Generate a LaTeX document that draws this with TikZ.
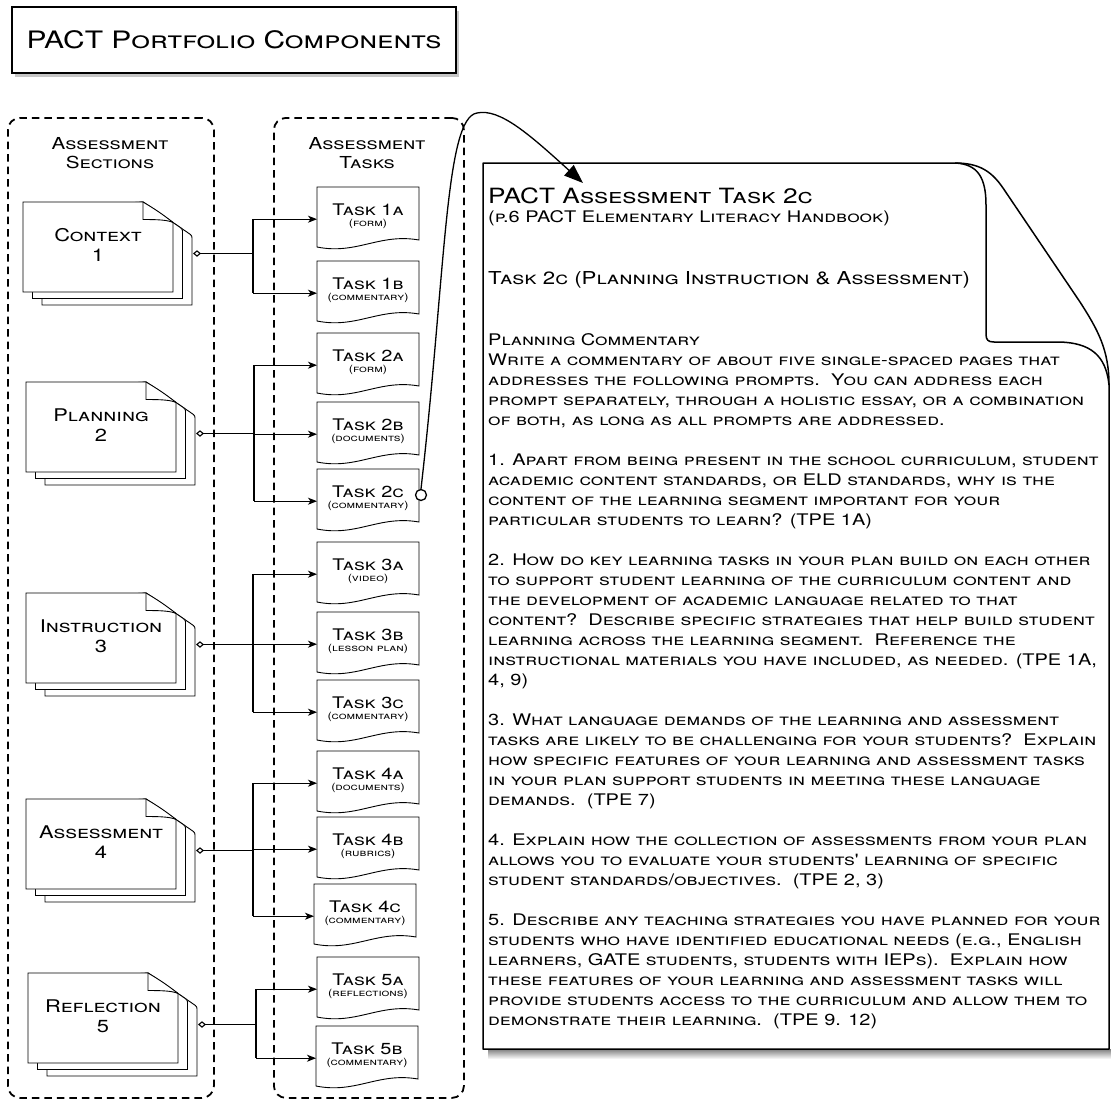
\documentclass[tikz,border=0pt]{standalone}
\usepackage{fontspec}
\setmainfont{TeX Gyre Heros}
\newfontfamily\cop[Letters=SmallCaps,FakeStretch=1.25]{TeX Gyre Heros}
\usetikzlibrary{arrows.meta,shapes.geometric,calc,shadows}

\newcommand\secdoc[5]{%
  \path[pagefill] (#2+19,#3+13) -- (#2+120,#3) -- (#2+165,#3+30.8) .. controls (#2+169,#3+33.5) .. (#2+169,#3+37.5) -- (#2+169,#3+103) -- (#2+19,#3+103) -- cycle;
  \path[pagefill] (#2+9.5,#3+6.5) -- (#2+120,#3) -- (#2+155.5,#3+24.3) .. controls (#2+159.5,#3+27) .. (#2+159.5,#3+31) -- (#2+159.5,#3+96.5) -- (#2+9.5,#3+96.5) -- cycle;
  \path[pagefill] (#2,#3) -- (#2+120,#3) .. controls (#2+132,#3+7) and (#2+142,#3+14) .. (#2+150,#3+20.5) -- (#2+150,#3+90) -- (#2,#3+90) -- cycle;
  \draw[pageline] (#2+120,#3) -- (#2+120,#3+17.5) .. controls (#2+135,#3+17.5) and (#2+145,#3+18) .. (#2+150,#3+20.5);
  \node[secbox] (#1) at (#2,#3) {};
  \node[sectxt] (#1-l) at (#2+75,#3+43) {#4\\#5};
  \coordinate (#1-d) at (#2+170,#3+51.5);
}
\newcommand\taskdoc[5]{%
  \path[pagefill] (#2,#3) -- (#2+102,#3) -- (#2+102,#3+53) .. controls (#2+62,#3+46) and (#2+40,#3+68) .. (#2,#3+60) -- cycle;
  \node[taskbox] (#1) at (#2,#3) {};
  \node[tasktitle] (#1-t) at (#2+51,#3+28) {#4};
  \node[tasksub] (#1-s) at (#2+51,#3+39.5) {#5};
}

\begin{document}
\begin{tikzpicture}[x=1pt,y=-1pt,
  pagefill/.style={draw=black, line width=0.9pt, fill=white},
  pageline/.style={draw=black, line width=0.9pt},
  docline/.style={draw=black, line width=1.5pt, line join=round},
  dashbox/.style={draw, line width=1.8pt, dash pattern=on 7.5pt off 5pt, rounded corners=12pt, inner sep=0pt, anchor=north west},
  secbox/.style={anchor=north west, minimum width=150pt, minimum height=90pt, inner sep=0pt},
  taskbox/.style={anchor=north west, minimum width=102pt, minimum height=64pt, inner sep=0pt},
  sectxt/.style={align=center, font=\cop\fontsize{17.5}{19.5}\selectfont, inner sep=0pt},
  hdrtxt/.style={align=center, font=\cop\fontsize{16.5}{19}\selectfont, inner sep=0pt},
  tasktitle/.style={anchor=base, font=\cop\fontsize{16}{18}\selectfont, inner sep=0pt},
  tasksub/.style={anchor=base, font=\cop\fontsize{10}{11}\selectfont, inner sep=0pt},
  conn/.style={line width=1.1pt},
  arr/.style={line width=1.1pt, -{Stealth[length=9pt,width=7pt,inset=2.5pt]}},
  dia/.style={line width=1.1pt, {Diamond[open,length=8pt,width=6.5pt]}-},
]
\useasboundingbox (0,0) rectangle (1111,1100);

% title
\node[draw, line width=1.4pt, fill=white, minimum width=444pt, minimum height=66pt, inner sep=0pt,
      font=\cop\fontsize{24}{26}\selectfont,
      drop shadow={shadow xshift=3pt, shadow yshift=-4pt, opacity=0.45}] (title) at (234,40) {PACT Portfolio Components};

% columns
\node[dashbox, minimum width=206pt, minimum height=980pt] (seccol) at (7,117) {};
\node[dashbox, minimum width=190pt, minimum height=980pt] (taskcol) at (273,117) {};
\node[hdrtxt] (sechdr) at (110,153) {Assessment\\Sections};
\node[hdrtxt] (taskhdr) at (367,153) {Assessment\\Tasks};

% sections
\secdoc{ctx}{23}{202}{Context}{1}
\secdoc{pln}{26}{382}{Planning}{2}
\secdoc{ins}{26}{593}{Instruction}{3}
\secdoc{asm}{26}{799}{Assessment}{4}
\secdoc{rfl}{28}{973}{Reflection}{5}

% tasks
\taskdoc{t1a}{317}{187}{Task 1a}{(form)}
\taskdoc{t1b}{317}{261}{Task 1b}{(commentary)}
\taskdoc{t2a}{317}{333}{Task 2a}{(form)}
\taskdoc{t2b}{317}{402}{Task 2b}{(documents)}
\taskdoc{t2c}{317}{469}{Task 2c}{(commentary)}
\taskdoc{t3a}{317}{542}{Task 3a}{(video)}
\taskdoc{t3b}{317}{612}{Task 3b}{(lesson plan)}
\taskdoc{t3c}{317}{680}{Task 3c}{(commentary)}
\taskdoc{t4a}{317}{751}{Task 4a}{(documents)}
\taskdoc{t4b}{317}{817}{Task 4b}{(rubrics)}
\taskdoc{t4c}{314}{884}{Task 4c}{(commentary)}
\taskdoc{t5a}{317}{957}{Task 5a}{(reflections)}
\taskdoc{t5b}{316}{1026}{Task 5b}{(commentary)}

% bus coordinates
\coordinate (ctx-b) at (253,253.5);
\coordinate (pln-b) at (254,433.5);
\coordinate (ins-b) at (253,644.5);
\coordinate (asm-b) at (253,850.5);
\coordinate (rfl-b) at (256,1024.5);

% connectors
\draw[dia] (ctx-d) -- (ctx-b);
\draw[conn] (ctx-b |- t1a.west) -- (ctx-b |- t1b.west);
\draw[arr] (ctx-b |- t1a.west) -- (t1a.west);
\draw[arr] (ctx-b |- t1b.west) -- (t1b.west);

\draw[dia] (pln-d) -- (pln-b);
\draw[conn] (pln-b |- t2a.west) -- (pln-b |- t2c.west);
\draw[arr] (pln-b |- t2a.west) -- (t2a.west);
\draw[arr] (pln-b |- t2b.west) -- (t2b.west);
\draw[arr] (pln-b |- t2c.west) -- (t2c.west);

\draw[dia] (ins-d) -- (ins-b);
\draw[conn] (ins-b |- t3a.west) -- (ins-b |- t3c.west);
\draw[arr] (ins-b |- t3a.west) -- (t3a.west);
\draw[arr] (ins-b |- t3b.west) -- (t3b.west);
\draw[arr] (ins-b |- t3c.west) -- (t3c.west);

\draw[dia] (asm-d) -- (asm-b);
\draw[conn] (asm-b |- t4a.west) -- (asm-b |- t4c.west);
\draw[arr] (asm-b |- t4a.west) -- (t4a.west);
\draw[arr] (asm-b |- t4b.west) -- (t4b.west);
\draw[arr] (asm-b |- t4c.west) -- (t4c.west);

\draw[dia] (rfl-d) -- (rfl-b);
\draw[conn] (rfl-b |- t5a.west) -- (rfl-b |- t5b.west);
\draw[arr] (rfl-b |- t5a.west) -- (t5a.west);
\draw[arr] (rfl-b |- t5b.west) -- (t5b.west);

% big document
\shade[top color=black!50, bottom color=white] (488,1049) rectangle (1111,1059);
\path[docline, fill=white] (483,163) -- (955,163) .. controls (980,163) and (992,172) .. (1003,188) -- (1080,302) .. controls (1098,330) and (1109,350) .. (1109,385) -- (1109,1049) -- (483,1049) -- cycle;
\draw[docline] (955,163) .. controls (978,164) and (986,178) .. (986,205) -- (986,334) .. controls (986,340) and (988,342) .. (994,342) -- (1060,342) .. controls (1090,343) and (1106,355) .. (1109,385);
\node[anchor=north west, minimum width=626pt, minimum height=886pt, inner sep=0pt] (pg) at (483,163) {};

\node[anchor=base west, inner sep=0pt, font=\cop\fontsize{21}{23}\selectfont] (h1) at (488,203) {PACT Assessment Task 2c};
\node[anchor=base west, inner sep=0pt, font=\cop\fontsize{16}{18}\selectfont] (h2) at (488,222) {(p.6 PACT Elementary Literacy Handbook)};
\node[anchor=base west, inner sep=0pt, font=\cop\fontsize{17.8}{20}\selectfont] (h3) at (488,284) {Task 2c (Planning Instruction \& Assessment)};
\node[anchor=north west, align=left, inner sep=0pt, font=\cop\fontsize{16}{20}\selectfont] (body) at (488,333.5) {%
Planning Commentary\\
Write a commentary of about five single-spaced pages that\\
addresses the following prompts.\ \ You can address each\\
prompt separately, through a holistic essay, or a combination\\
of both, as long as all prompts are addressed.\\[20pt]
1. Apart from being present in the school curriculum, student\\
academic content standards, or ELD standards, why is the\\
content of the learning segment important for your\\
particular students to learn? (TPE 1A)\\[20pt]
2. How do key learning tasks in your plan build on each other\\
to support student learning of the curriculum content and\\
the development of academic language related to that\\
content?\ \ Describe specific strategies that help build student\\
learning across the learning segment.\ \ Reference the\\
instructional materials you have included, as needed. (TPE 1A,\\
4, 9)\\[20pt]
3. What language demands of the learning and assessment\\
tasks are likely to be challenging for your students?\ \ Explain\\
how specific features of your learning and assessment tasks\\
in your plan support students in meeting these language\\
demands.\ \ (TPE 7)\\[20pt]
4. Explain how the collection of assessments from your plan\\
allows you to evaluate your students' learning of specific\\
student standards/objectives.\ \ (TPE 2, 3)\\[20pt]
5. Describe any teaching strategies you have planned for your\\
students who have identified educational needs (e.g., English\\
learners, GATE students, students with IEPs).\ \ Explain how\\
these features of your learning and assessment tasks will\\
provide students access to the curriculum and allow them to\\
demonstrate their learning.\ \ (TPE 9. 12)};

% link from task 2c to the document
\node[circle, draw, line width=1.3pt, fill=white, minimum size=11pt, inner sep=0pt] (c2c) at (421,495) {};
\coordinate (loop) at (477,113);
\coordinate (pg-in) at (583,183);
\draw[line width=1.3pt, -{Triangle[length=19pt,width=14pt]}] (c2c.north) .. controls (446,270) and (445,118) .. (loop) .. controls (500,108) and (530,135) .. (pg-in);
\end{tikzpicture}
\end{document}
